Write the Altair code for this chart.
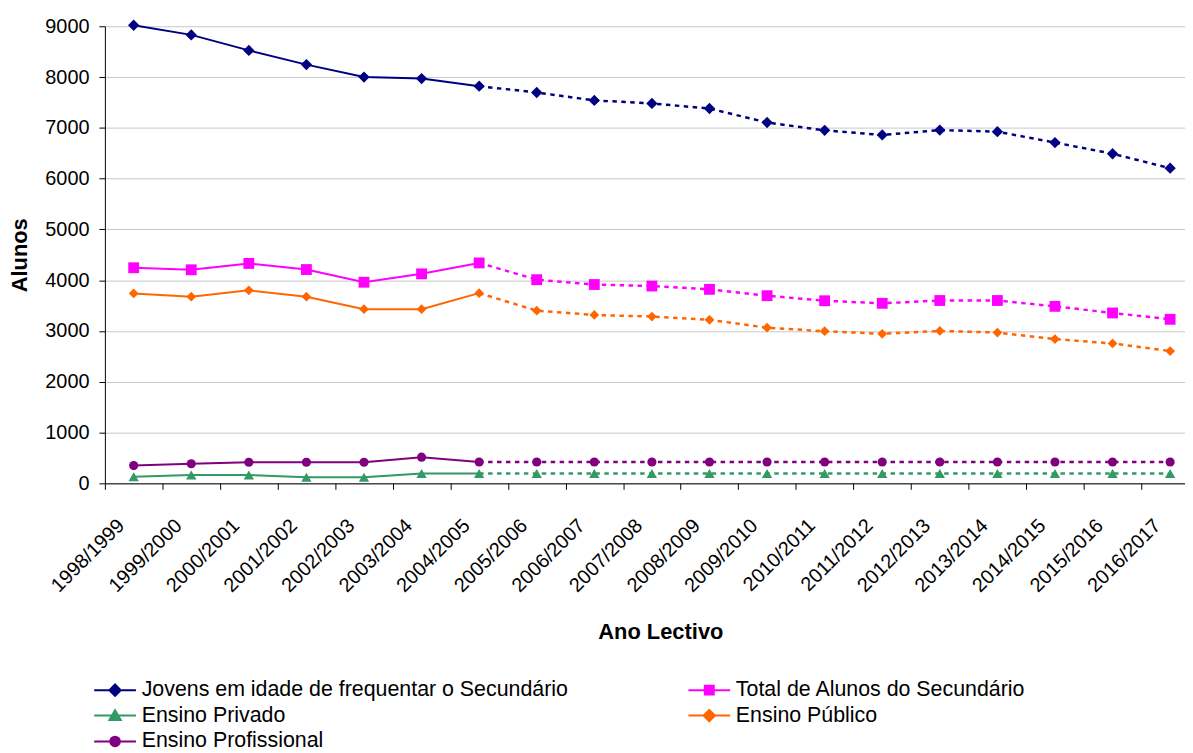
import altair as alt
import pandas as pd

categories = ["1998/1999", "1999/2000", "2000/2001", "2001/2002", "2002/2003",
              "2003/2004", "2004/2005", "2005/2006", "2006/2007", "2007/2008",
              "2008/2009", "2009/2010", "2010/2011", "2011/2012", "2012/2013",
              "2013/2014", "2014/2015", "2015/2016", "2016/2017"]

jovens = [9020, 8830, 8525, 8245, 8000, 7970, 7820, 7695, 7540, 7480,
          7380, 7105, 6950, 6860, 6955, 6925, 6710, 6490, 6205]
total = [4245, 4205, 4330, 4210, 3960, 4125, 4340, 4010, 3915, 3885,
         3820, 3695, 3595, 3545, 3600, 3600, 3485, 3355, 3230]
privado = [130, 165, 165, 120, 120, 195, 195, 195, 195, 195,
           195, 195, 195, 195, 195, 195, 195, 195, 195]
publico = [3740, 3675, 3800, 3675, 3430, 3430, 3745, 3400, 3315, 3285,
           3220, 3065, 2995, 2945, 3000, 2970, 2840, 2755, 2605]
profissional = [350, 385, 415, 415, 415, 515, 420, 420, 420, 420,
                420, 420, 420, 420, 420, 420, 420, 420, 420]

series_names = ["Jovens em idade de frequentar o Secundário",
                "Total de Alunos do Secundário",
                "Ensino Privado",
                "Ensino Público",
                "Ensino Profissional"]
series_values = [jovens, total, privado, publico, profissional]
colors = ["#000080", "#FF00FF", "#339966", "#FF6600", "#800080"]
shapes = ["diamond", "square", "triangle-up", "diamond", "circle"]
marker_sizes = [130, 85, 115, 130, 95]
legend_paths = [
    "M-3.5,0H3.5M0,-0.95L0.95,0L0,0.95L-0.95,0Z",
    "M-3.5,0H3.5M-0.75,-0.75H0.75V0.75H-0.75Z",
    "M-3.5,0H3.5M0,-0.9L0.95,0.75H-0.95Z",
    "M-3.5,0H3.5M0,-0.95L0.95,0L0,0.95L-0.95,0Z",
    "M-3.5,0H3.5M-0.8,0A0.8,0.8,0,1,0,0.8,0A0.8,0.8,0,1,0,-0.8,0Z",
]
split_index = 6  # 2004/2005: last solid point, first dashed point

rows = []
for name, vals in zip(series_names, series_values):
    for i, (cat, v) in enumerate(zip(categories, vals)):
        rows.append({"serie": name, "ano": cat, "alunos": v, "idx": i})
df = pd.DataFrame(rows)
solid_df = df[df["idx"] <= split_index]
dashed_df = df[df["idx"] >= split_index]

FONT = "Liberation Sans"

x_axis = alt.Axis(
    title="Ano Lectivo", labelAngle=315, labelAlign="right", labelBaseline="middle",
    labelOffset=-13, labelPadding=33, tickBand="extent", ticks=True, tickSize=6,
    tickColor="#000000", domainColor="#000000", grid=False,
    labelFontSize=20, labelFont=FONT, labelColor="#000000",
    titleFont=FONT, titleFontSize=22, titleFontWeight="bold", titleColor="#000000",
    titleX=559, titleY=149, titleAlign="center", titleBaseline="middle",
    labelOverlap=False,
)
y_axis = alt.Axis(
    title="Alunos", values=list(range(0, 9001, 1000)), format="d", tickSize=6, labelPadding=10,
    tickColor="#000000", domainColor="#000000", grid=True, gridColor="#c8c8c8",
    labelFontSize=20, labelFont=FONT, labelColor="#000000",
    titleFont=FONT, titleFontSize=22, titleFontWeight="bold", titleColor="#000000",
    titleAngle=270, titleX=-86, titleY=230, titleAlign="center", titleBaseline="middle",
)

x_enc = alt.X("ano:N", sort=categories, bandPosition=0.5,
              scale=alt.Scale(type="band", domain=categories, range=[0, 1101],
                              paddingInner=0, paddingOuter=0),
              axis=x_axis)
y_enc = alt.Y("alunos:Q", scale=alt.Scale(domain=[0, 9000], nice=False), axis=y_axis)
color_enc = alt.Color("serie:N", scale=alt.Scale(domain=series_names, range=colors), legend=None)

solid = alt.Chart(solid_df).mark_line(strokeWidth=2).encode(
    x=x_enc, y=y_enc, color=color_enc)
dashed = alt.Chart(dashed_df).mark_line(strokeWidth=2.5, strokeDash=[4.5, 4.5]).encode(
    x=x_enc, y=y_enc, color=color_enc)
points = alt.Chart(df).mark_point(filled=True, opacity=1, strokeWidth=1).encode(
    x=x_enc, y=y_enc, color=color_enc,
    shape=alt.Shape("serie:N", scale=alt.Scale(domain=series_names, range=shapes), legend=None),
    size=alt.Size("serie:N", scale=alt.Scale(domain=series_names, range=marker_sizes), legend=None),
)

leg = alt.Legend(
    title=None, orient="none", direction="horizontal", legendX=-0.5, legendY=657,
    columns=2, columnPadding=116, rowPadding=3,
    labelFont=FONT, labelFontSize=21.5, labelColor="#000000",
    labelLimit=900, labelOffset=16, symbolSize=144, symbolStrokeWidth=2, padding=0,
)
legend_layer = alt.Chart(df).transform_filter("datum.alunos < 0").mark_point(
    filled=True, opacity=1, strokeWidth=2, size=144).encode(
    x=x_enc, y=y_enc,
    fill=alt.Fill("serie:N", scale=alt.Scale(domain=series_names, range=colors), legend=leg),
    stroke=alt.Stroke("serie:N", scale=alt.Scale(domain=series_names, range=colors), legend=leg),
    shape=alt.Shape("serie:N", scale=alt.Scale(domain=series_names, range=legend_paths), legend=leg),
)

chart = alt.layer(solid, dashed, points, legend_layer).resolve_scale(
    color="independent", fill="independent", stroke="independent",
    shape="independent", size="independent",
).properties(
    width=1087, height=460,
    autosize=alt.AutoSizeParams(type="none"),
    padding={"left": 97.5, "top": 16, "right": 0, "bottom": 269},
    background="white",
).configure_view(stroke=None)

chart.save("out.html", embed_options={"renderer": "svg", "actions": False})
